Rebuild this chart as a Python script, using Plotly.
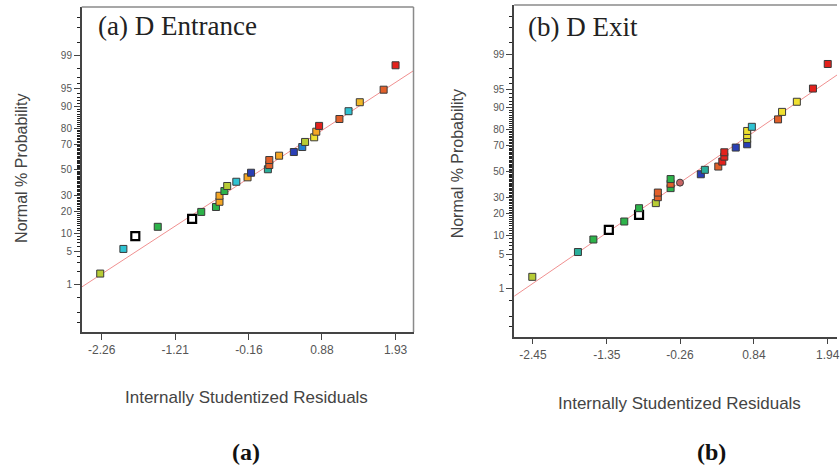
import plotly.graph_objects as go
from statistics import NormalDist

nd = NormalDist()


def zval(p):
    return nd.inv_cdf(p / 100.0)


# ---------------- data ----------------
a_resid = [-2.28, -1.95, -1.78, -1.46, -0.97, -0.84, -0.63, -0.58, -0.58, -0.51,
           -0.47, -0.34, -0.18, -0.13, 0.11, 0.13, 0.13, 0.27, 0.48, 0.60,
           0.64, 0.77, 0.80, 0.84, 1.13, 1.26, 1.42, 1.76, 1.93]
a_prob = [1.8, 5.5, 9.0, 12.5, 16.1, 19.8, 22.7, 26.0, 30.1, 33.5,
          37.3, 40.6, 44.1, 47.8, 50.6, 54.0, 58.0, 61.4, 64.2, 67.9,
          71.5, 74.6, 78.1, 81.4, 84.9, 88.3, 91.5, 94.8, 98.3]
a_color = ["YG", "CY", "OPEN", "GR", "OPEN", "GR", "GR", "OR", "OR", "GR",
           "YG", "CY", "OR", "BL", "TE", "ORR", "ORR", "OR", "BL", "AZ",
           "YG", "YE", "OR", "RD", "ORR", "CY", "OY", "ORR", "RD"]

b_resid = [-2.46, -1.78, -1.55, -1.32, -1.09, -0.87, -0.87, -0.62, -0.59, -0.59,
           -0.40, -0.40, -0.40, -0.26, 0.05, 0.11, 0.31, 0.37, 0.40, 0.40,
           0.57, 0.74, 0.74, 0.74, 0.74, 0.81, 1.20, 1.26, 1.48, 1.72, 1.94]
b_prob = [1.8, 5.45, 8.8, 12.3, 16.0, 19.4, 23.3, 26.5, 30.5, 33.8,
          37.1, 40.4, 44.1, 41.3, 47.9, 51.4, 54.0, 57.9, 61.7, 65.0,
          68.4, 70.7, 74.2, 76.7, 79.1, 81.4, 85.1, 88.3, 91.8, 95.1, 98.4]
b_color = ["YG", "TE", "GR", "OPEN", "GR", "OPEN", "GR", "YG", "ORR", "ORR",
           "GR", "ORR", "GR", "BRC", "BL", "TE", "ORR", "RD", "RD", "RD",
           "BL", "BL", "YG", "YE", "YE", "CY", "ORR", "YE", "YE", "RD", "RD"]

a_line_resid = [-2.54, 2.19]
a_line_prob = [0.9, 97.8]
b_line_resid = [-2.73, 2.08]
b_line_prob = [0.65, 97.3]

a_xticks = [-2.26, -1.21, -0.16, 0.88, 1.93]
b_xticks = [-2.45, -1.35, -0.26, 0.84, 1.94]
y_ticks = [1, 5, 10, 20, 30, 50, 70, 80, 90, 95, 99]
y_minor = [0.1, 0.2, 0.5, 2, 3, 4] + list(range(6, 95)) + [96, 97, 98, 99.5, 99.8, 99.9]

# ---------------- style ----------------
PAL = {
    "YG": "#b7cc35", "CY": "#2fc2d2", "GR": "#2db34a", "OR": "#f5a623",
    "BL": "#2a3fb5", "TE": "#2aae9a", "ORR": "#e2602a", "AZ": "#1f7fd6",
    "YE": "#efe030", "RD": "#e3211c", "OY": "#f0b828", "BRC": "#c86464",
    "OPEN": "#ffffff",
}
W, H = 840, 467


def px_x(v):
    return v / W


def px_y(v):
    return 1 - v / H


def marker_spec(cols):
    return dict(
        symbol=["circle" if c == "BRC" else "square" for c in cols],
        color=[PAL[c] for c in cols],
        size=[8 if c == "OPEN" else 7 for c in cols],
        opacity=1,
        line=dict(color=["#000000" if c == "OPEN" else "#3a3a3a" for c in cols],
                  width=[2.2 if c == "OPEN" else 1 for c in cols]),
    )


fig = go.Figure()

fig.add_trace(go.Scatter(x=a_line_resid, y=[zval(p) for p in a_line_prob],
                         mode="lines", line=dict(color="#f09090", width=1),
                         xaxis="x", yaxis="y", hoverinfo="skip"))
fig.add_trace(go.Scatter(x=a_resid, y=[zval(p) for p in a_prob], mode="markers",
                         marker=marker_spec(a_color), xaxis="x", yaxis="y"))
fig.add_trace(go.Scatter(x=b_line_resid, y=[zval(p) for p in b_line_prob],
                         mode="lines", line=dict(color="#f09090", width=1),
                         xaxis="x2", yaxis="y2", hoverinfo="skip"))
fig.add_trace(go.Scatter(x=b_resid, y=[zval(p) for p in b_prob], mode="markers",
                         marker=marker_spec(b_color), xaxis="x2", yaxis="y2"))

tickfont = dict(family="Liberation Sans, Arial", size=12, color="#555555")

common_x = dict(showgrid=False, zeroline=False, showline=True, linecolor="#444444",
                linewidth=1.5, ticks="outside", ticklen=6, tickwidth=1.2,
                tickcolor="#444444", tickfont=tickfont, fixedrange=True,
                ticklabeloverflow="allow")
common_y = dict(showgrid=False, zeroline=False, showline=True, linecolor="#444444",
                linewidth=1.5, ticks="outside", ticklen=6, tickwidth=1.2,
                tickcolor="#444444", tickfont=dict(tickfont, size=10),
                tickmode="array", tickvals=[zval(p) for p in y_ticks],
                ticktext=[str(p) for p in y_ticks],
                minor=dict(tickmode="array", tickvals=[zval(p) for p in y_minor],
                           ticks="outside", ticklen=3, tickwidth=1,
                           tickcolor="#222222", showgrid=False),
                fixedrange=True)

fig.update_layout(
    width=W, height=H,
    margin=dict(l=0, r=0, t=0, b=0),
    paper_bgcolor="white", plot_bgcolor="white",
    showlegend=False,
    xaxis=dict(common_x, domain=[px_x(82), px_x(415)], range=[-2.544, 2.186],
               anchor="y", tickmode="array", tickvals=a_xticks,
               ticktext=[f"{v:.2f}" for v in a_xticks]),
    yaxis=dict(common_y, domain=[px_y(332), px_y(7)], range=[-3.28, 3.30], anchor="x"),
    xaxis2=dict(common_x, domain=[px_x(516), 1.0], range=[-2.73, 2.078],
                anchor="y2", tickmode="array", tickvals=b_xticks,
                ticktext=[f"{v:.2f}" for v in b_xticks]),
    yaxis2=dict(common_y, domain=[px_y(336.7), px_y(5)], range=[-3.29, 3.32], anchor="x2"),
)

# top / right frame lines
fig.add_shape(type="line", xref="paper", yref="paper", x0=px_x(82), x1=px_x(415),
              y0=px_y(7), y1=px_y(7), line=dict(color="#8a8a8a", width=1.5))
fig.add_shape(type="line", xref="paper", yref="paper", x0=px_x(415), x1=px_x(415),
              y0=px_y(7), y1=px_y(332), line=dict(color="#8a8a8a", width=1.5))
fig.add_shape(type="line", xref="paper", yref="paper", x0=px_x(516), x1=1.0,
              y0=px_y(5), y1=px_y(5), line=dict(color="#8a8a8a", width=1.5))

serif = "Liberation Serif, Times New Roman, serif"
sans = "Liberation Sans, Arial, sans-serif"


def ann(text, x, y, size, family, color="#222222", angle=0, xanchor="center"):
    fig.add_annotation(text=text, x=px_x(x), y=px_y(y), xref="paper", yref="paper",
                       showarrow=False, textangle=angle, xanchor=xanchor, yanchor="middle",
                       font=dict(family=family, size=size, color=color))


ann("(a) D Entrance", 96, 26, 27, serif, xanchor="left")
ann("(b) D Exit", 528, 27, 27, serif, xanchor="left")
ann("Normal % Probability", 21, 168, 16, sans, color="#444444", angle=-90)
ann("Normal % Probability", 459, 164, 16, sans, color="#444444", angle=-90)
ann("Internally Studentized Residuals", 247, 397, 17, sans, color="#444444")
ann("Internally Studentized Residuals", 682, 403, 17, sans, color="#444444")
ann("<b>(a)</b>", 247, 452, 24, serif, color="#111111")
ann("<b>(b)</b>", 714, 452, 24, serif, color="#111111")

fig.write_html("out.html", config={"displayModeBar": False},
               post_script="document.body.style.margin='0px';document.body.style.padding='0px';")
